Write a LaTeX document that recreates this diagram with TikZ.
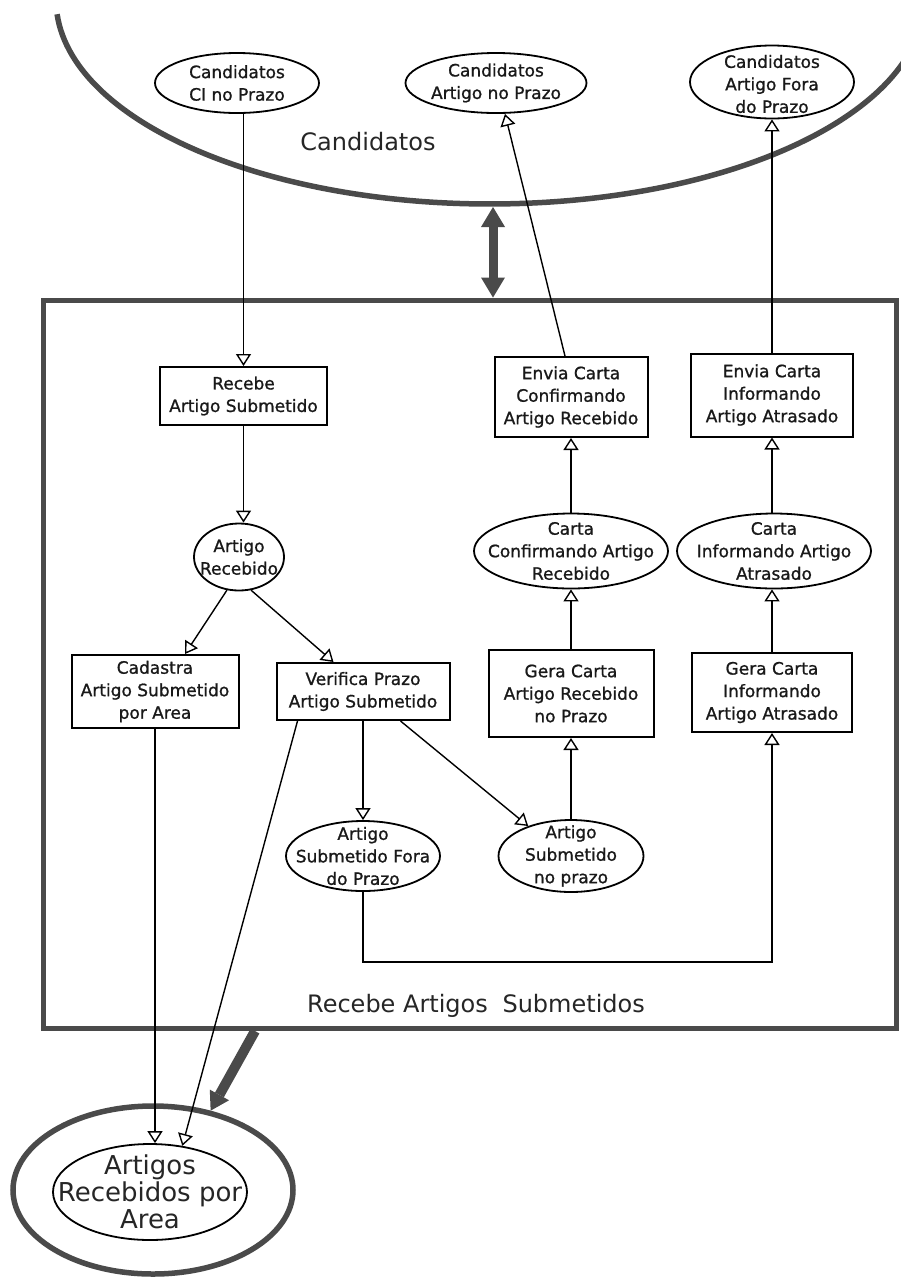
\documentclass[tikz,border=0pt]{standalone}
\usepackage{fontspec}
\setmainfont{DejaVu Sans}
\newfontfamily\boxfont[FakeBold=1]{DejaVu Sans}
\usetikzlibrary{arrows.meta,shapes.geometric,calc}
\definecolor{heavy}{HTML}{4A4A4A}
\begin{document}
\begin{tikzpicture}[x=1pt,y=-1pt,
  txt/.style={font=\boxfont\fontsize{17}{22.5}\selectfont, text=black!90, align=center, inner sep=0pt},
  bigtxt/.style={font=\fontsize{24}{26}\selectfont, text=black!85, inner sep=0pt},
  proc/.style={draw, line width=2pt, rectangle, inner sep=0pt, txt},
  oval/.style={draw, line width=1.8pt, ellipse, inner sep=0pt},
  flow/.style={line width=1.4pt, -{Triangle[open, length=12pt, width=15pt]}},
  heavyframe/.style={draw=heavy, line width=5pt},
  heavyflow/.style={heavy, line width=9pt},
]
\fill[white] (0,0) rectangle (901,1278);
\useasboundingbox (0,0) rectangle (901,1278);

% external entity: Candidatos (large open oval)
\begin{scope}
  \clip (0,0) rectangle (901,1278);
  \draw[heavy, line width=5.5pt] (57.1,14.2) arc[start angle=176, end angle=0, x radius=434, y radius=204];
\end{scope}
\node[bigtxt] (candlbl) at (368,142) {Candidatos};

\node[oval, minimum width=164pt, minimum height=60pt,
      label={[txt]center:Candidatos\\CI no Prazo}] (candci) at (237,83) {};
\node[oval, minimum width=181pt, minimum height=60pt,
      label={[txt]center:Candidatos\\Artigo no Prazo}] (candart) at (496,83) {};
\node[oval, minimum width=164pt, minimum height=73pt,
      label={[txt, yshift=-2pt]center:Candidatos\\Artigo Fora\\do Prazo}] (candfora) at (772,82) {};

% process frame
\node[heavyframe, rectangle, minimum width=853pt, minimum height=728pt, inner sep=0pt] (process) at (469.5,664) {};
\node[bigtxt] (proclbl) at (476,1006) {Recebe Artigos\hspace{7pt} Submetidos};

% inner processes
\node[proc, minimum width=167pt, minimum height=58pt] (recebe) at (243.5,396) {Recebe\\Artigo Submetido};
\node[proc, minimum width=153pt, minimum height=80pt] (enviaconf) at (571,397) {Envia Carta\\Confirmando\\Artigo Recebido};
\node[proc, minimum width=162pt, minimum height=83pt] (enviainf) at (772,395) {Envia Carta\\Informando\\Artigo Atrasado};
\node[proc, minimum width=167pt, minimum height=73pt] (cadastra) at (155,691.5) {Cadastra\\Artigo Submetido\\por Area};
\node[proc, minimum width=173pt, minimum height=57pt] (verifica) at (363,691.5) {Verifica Prazo\\Artigo Submetido};
\node[proc, minimum width=165pt, minimum height=87pt] (gerarec) at (571,693.5) {Gera Carta\\Artigo Recebido\\no Prazo};
\node[proc, minimum width=160pt, minimum height=79pt] (gerainf) at (772,692.5) {Gera Carta\\Informando\\Artigo Atrasado};

% inner data stores
\node[oval, minimum width=90pt, minimum height=67pt,
      label={[txt]center:Artigo\\Recebido}] (artrec) at (239,557) {};
\node[oval, minimum width=194pt, minimum height=75pt,
      label={[txt]center:Carta\\Confirmando Artigo\\Recebido}] (cconf) at (571,551) {};
\node[oval, minimum width=194pt, minimum height=75pt,
      label={[txt]center:Carta\\Informando Artigo\\Atrasado}] (cinf) at (774,551) {};
\node[oval, minimum width=154pt, minimum height=70pt,
      label={[txt]center:Artigo\\Submetido Fora\\do Prazo}] (fora) at (363,856) {};
\node[oval, minimum width=145pt, minimum height=72pt,
      label={[txt]center:Artigo\\Submetido\\no prazo}] (noprazo) at (571,856) {};

% output store
\node[ellipse, draw=heavy, line width=5.5pt, minimum width=280pt, minimum height=168pt, inner sep=0pt] (store) at (153,1190) {};
\node[oval, minimum width=194pt, minimum height=96pt,
      label={[font=\fontsize{26}{27}\selectfont, align=center, text=black!85]center:Artigos\\Recebidos por\\Area}] (artigos) at (150,1192) {};

% heavy flows
\coordinate (arcbot) at (493,207);
\draw[heavyflow, {Triangle[length=20pt, width=24pt, line width=0pt]}-{Triangle[length=20pt, width=24pt, line width=0pt]}]
  (arcbot) -- (arcbot |- process.north);
\coordinate (procout) at (255,1031);
\draw[heavyflow, line width=10pt, -{Triangle[length=18pt, width=22pt, line width=0pt]}] (procout) -- (store.54);

% data flows
\coordinate (lowrun) at (0,962);
\draw[flow] (candci.south -| recebe.north) -- (recebe.north);
\draw[flow] (recebe.south) -- (recebe.south |- artrec.north);
\draw[flow] (artrec.250) -- ($(cadastra.north)+(30,0)$);
\draw[flow] (artrec.290) -- ($(verifica.north west)+(58,0)$);
\draw[flow] (verifica.south) -- (fora.north);
\draw[flow] ($(verifica.south east)+(-50,0)$) -- (noprazo.145);
\draw[flow] (noprazo.north) -- (gerarec.south);
\draw[flow] (gerarec.north) -- (cconf.south);
\draw[flow] (cconf.north) -- (enviaconf.south);
\draw[flow] ($(enviaconf.north)+(-6,0)$) -- ($(candart.south)+(9,0)$);
\draw[flow] (fora.south) -- (fora.south |- lowrun) -| (gerainf.south);
\draw[flow] (gerainf.north) -- (cinf.south -| gerainf.north);
\draw[flow] (cinf.north -| enviainf.south) -- (enviainf.south);
\draw[flow] (enviainf.north) -- (candfora.south);
\draw[flow] (cadastra.south) -- (cadastra.south |- artigos.north);
\draw[flow] ($(verifica.south west)+(22,0)$) -- (artigos.55);
\end{tikzpicture}
\end{document}
